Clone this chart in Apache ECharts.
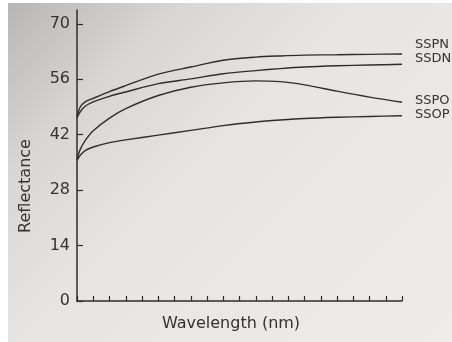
<!DOCTYPE html>
<html>
<head>
<meta charset="utf-8">
<script src="https://cdn.jsdelivr.net/npm/echarts@6/dist/echarts.min.js"></script>
<style>
html,body{margin:0;padding:0;background:#fff;}
#bg{position:absolute;left:8px;top:3px;width:444px;height:339px;
background:linear-gradient(135deg,#b9b5b3 0%,#d8d6d3 22%,#e7e5e2 45%,#eeece9 100%);}
#chart{position:absolute;left:0;top:0;width:452px;height:342px;}
</style>
</head>
<body>
<div id="bg"></div>
<div id="chart"></div>
<script>
const xs = [0, 0.2, 0.5, 1, 2, 3, 5, 7, 9, 11, 12.5, 14, 16, 18, 20];
const SSPN = [46.7, 49.0, 50.3, 51.2, 52.9, 54.4, 57.3, 59.1, 60.8, 61.6, 61.9, 62.1, 62.2, 62.3, 62.4];
const SSDN = [46.3, 47.8, 49.2, 50.3, 51.7, 52.8, 54.9, 56.1, 57.4, 58.2, 58.7, 59.1, 59.4, 59.6, 59.8];
const SSPO = [35.9, 38.3, 40.5, 43.0, 46.2, 48.6, 51.9, 54.0, 55.1, 55.6, 55.4, 54.6, 53.0, 51.5, 50.2];
const SSOP = [35.5, 36.8, 38.0, 38.9, 40.0, 40.7, 41.9, 43.1, 44.3, 45.2, 45.7, 46.1, 46.4, 46.6, 46.8];
const yTicks = [0, 14, 28, 42, 56, 70];
const seriesNames = ['SSPN', 'SSDN', 'SSPO', 'SSOP'];
const seriesVals = [SSPN, SSDN, SSPO, SSOP];
const labelY = [45, 59, 101, 115];

const ink = '#2c2c2c';
const chart = echarts.init(document.getElementById('chart'));
chart.setOption({
  backgroundColor: 'transparent',
  animation: false,
  grid: {left: 77, right: 50, top: 10, bottom: 41},
  xAxis: {
    type: 'value', min: 0, max: 20, interval: 1,
    axisLine: {show: true, lineStyle: {color: ink, width: 1.5}},
    axisTick: {show: true, inside: true, length: 5, lineStyle: {color: ink, width: 1.2}},
    axisLabel: {show: false},
    splitLine: {show: false}
  },
  yAxis: {
    type: 'value', min: 0, max: 73.5,
    axisLine: {show: true, lineStyle: {color: ink, width: 1.5}},
    axisTick: {show: true, inside: true, length: 6, customValues: yTicks, lineStyle: {color: ink, width: 1.2}},
    axisLabel: {show: true, customValues: yTicks, margin: 7, color: '#333',
      fontFamily: 'DejaVu Sans', fontSize: 16},
    splitLine: {show: false}
  },
  graphic: [
    {type: 'text', position: [26, 186], rotation: Math.PI / 2,
      style: {text: 'Reflectance', fontFamily: 'DejaVu Sans', fontSize: 16, fill: '#333',
        align: 'center', verticalAlign: 'middle'}},
    {type: 'text', position: [231, 324],
      style: {text: 'Wavelength (nm)', fontFamily: 'DejaVu Sans', fontSize: 16, fill: '#333',
        align: 'center', verticalAlign: 'middle'}}
  ].concat(seriesNames.map((n, i) => ({
    type: 'text', position: [415, labelY[i]],
    style: {text: n, fontFamily: 'DejaVu Sans', fontSize: 13, fill: '#333',
      align: 'left', verticalAlign: 'middle'}
  }))),
  series: seriesNames.map((n, i) => ({
    name: n, type: 'line', smooth: 0.3, showSymbol: false,
    lineStyle: {color: '#2e2e2e', width: 1.4},
    data: xs.map((x, j) => [x, seriesVals[i][j]])
  }))
});
</script>
</body>
</html>
